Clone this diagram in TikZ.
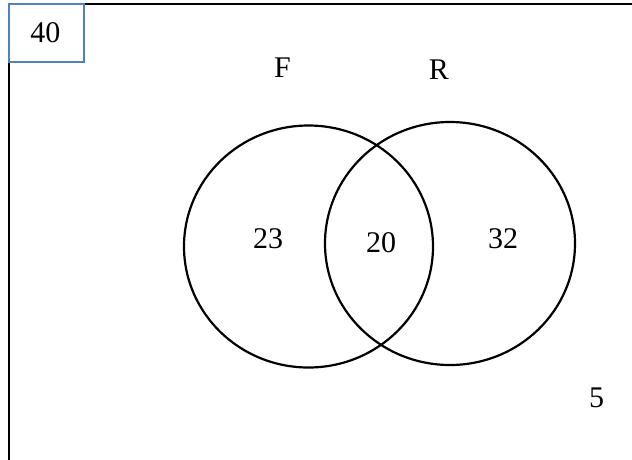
\documentclass[tikz,border=0pt]{standalone}
\usepackage{fontspec}
\setmainfont{Liberation Serif}
\begin{document}
\begin{tikzpicture}[x=1pt,y=-1pt,
  lbl/.style={inner sep=0pt, font=\fontsize{30}{34}\selectfont},
  setline/.style={line width=2.2pt, black},
  frameline/.style={line width=2pt, black},
  boxline/.style={line width=2pt, draw={rgb,255:red,79;green,129;blue,189}}]
\useasboundingbox (0,0) rectangle (632,459);
% frame
\draw[frameline] (84,4) -- (633,4);
\draw[frameline] (9,62) -- (9,460);
\draw[boxline] (9,4) rectangle (84,62);
\node[lbl] (n40) at (45.5,33) {40};
% sets
\coordinate (cF) at (308.5,246.5);
\coordinate (cR) at (450,243.5);
\draw[setline] (cF) ellipse [x radius=124.5, y radius=121];
\draw[setline] (cR) ellipse [x radius=125, y radius=121.5];
\node[lbl] (lF) at (282.5,68) {F};
\node[lbl] (lR) at (439,70) {R};
\node[lbl] (n23) at (268,239) {23};
\node[lbl] (n20) at (381,243) {20};
\node[lbl] (n32) at (503,239) {32};
\node[lbl] (n5) at (596.5,397.5) {5};
\end{tikzpicture}
\end{document}
